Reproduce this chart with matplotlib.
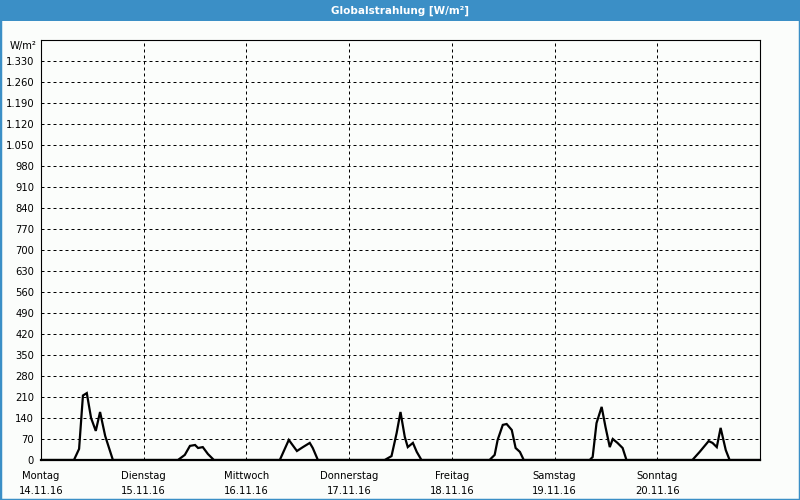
import matplotlib
matplotlib.use("Agg")
import matplotlib.pyplot as plt
from matplotlib.patches import Rectangle

# data: hours since Monday 00:00, W/m²
hours = [0,
         7.7, 8.9, 9.8, 10.7, 11.7, 12.8, 13.8, 15.0, 16.8,
         32.0, 33.6, 34.8, 36.0, 36.7, 37.8, 39.0, 40.4,
         55.8, 57.9, 59.8, 61.2, 62.8, 63.5, 64.7,
         80.3, 81.9, 83.1, 84.0, 85.0, 85.7, 86.9, 87.8, 88.9,
         104.8, 106.0, 106.7, 107.9, 108.8, 110.0, 110.9, 111.9, 112.8,
         128.2, 128.9, 129.8, 131.0, 131.9, 132.9, 133.6, 134.7, 135.9, 136.8,
         152.2, 153.9, 156.0, 156.9, 157.9, 158.8, 160.0, 160.9,
         168]
values = [0,
          0, 37, 215, 223, 140, 97, 160, 80, 0,
          0, 17, 47, 50, 40, 43, 20, 0,
          0, 67, 30, 43, 57, 40, 0,
          0, 13, 90, 160, 77, 43, 57, 27, 0,
          0, 17, 67, 117, 120, 100, 40, 27, 0,
          0, 10, 123, 177, 110, 43, 70, 57, 40, 0,
          0, 27, 63, 57, 43, 107, 33, 0,
          0]

days = ["Montag", "Dienstag", "Mittwoch", "Donnerstag", "Freitag", "Samstag", "Sonntag"]
dates = ["14.11.16", "15.11.16", "16.11.16", "17.11.16", "18.11.16", "19.11.16", "20.11.16"]
yticks = list(range(0, 1331, 70))

blue = "#3b8fc6"
fig = plt.figure(figsize=(8, 5), dpi=100, facecolor="#fbfdfb")
# frame + title bar
fig.patches.append(Rectangle((0, 0), 1, 1, transform=fig.transFigure,
                             fill=False, edgecolor=blue, linewidth=2.5, zorder=0))
fig.patches.append(Rectangle((0, 1 - 21 / 500), 1, 21 / 500, transform=fig.transFigure,
                             facecolor=blue, edgecolor="none", zorder=1))
fig.text(0.5, 1 - 10.5 / 500, "Globalstrahlung [W/m²]", color="white", fontsize=7.5,
         fontweight="bold", ha="center", va="center")

ax = fig.add_axes([41 / 800, 40 / 500, 719 / 800, 420 / 500])
ax.set_facecolor("#fbfdfb")
ax.plot(hours, values, color="black", linewidth=1.6, zorder=3, solid_joinstyle="miter")
ax.set_xlim(0, 168)
ax.set_ylim(0, 1400)

ax.set_yticks(yticks)
ax.set_yticklabels([f"{v:,}".replace(",", ".") for v in yticks], fontsize=7.2)
ax.set_xticks([24 * i for i in range(7)])
ax.set_xticklabels([f"{d}\n{t}" for d, t in zip(days, dates)], fontsize=7.2, linespacing=1.6)
ax.tick_params(axis="y", length=0, pad=5)
ax.tick_params(axis="x", length=0, pad=8)

ax.grid(True, color="black", linestyle=(0, (3, 3)), linewidth=0.72)
for s in ax.spines.values():
    s.set_linewidth(0.8)
ax.spines["bottom"].set_linewidth(1.6)

fig.text(10 / 800, 1 - 46 / 500, "W/m²", fontsize=7.2, ha="left", va="center")

fig.savefig("out.png", dpi=100, facecolor=fig.get_facecolor())
